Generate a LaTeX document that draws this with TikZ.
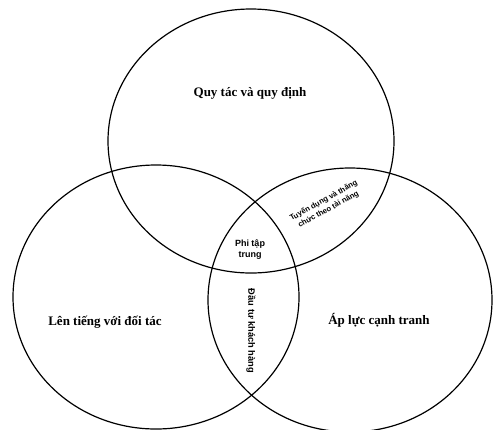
\documentclass[tikz,border=0pt]{standalone}
\usepackage{fontspec}
\setmainfont{Liberation Serif}
\setsansfont{Liberation Sans}
\begin{document}
\begin{tikzpicture}[x=1pt,y=-1pt,
  ring/.style={draw=black,line width=1.2pt},
  biglabel/.style={font=\fontsize{13}{15}\selectfont\bfseries,inner sep=0pt},
  smalllabel/.style={font=\sffamily\bfseries\fontsize{9}{11}\selectfont,align=center,inner sep=0pt},
  tinylabel/.style={font=\sffamily\bfseries\fontsize{7.6}{10}\selectfont,align=center,inner sep=0pt},
  vertlabel/.style={font=\sffamily\bfseries\fontsize{9.3}{11}\selectfont,inner sep=0pt}]
\useasboundingbox (0,0) rectangle (495,429);
\draw[ring] (251,141) ellipse [x radius=143pt, y radius=132pt];
\draw[ring] (156,297) ellipse [x radius=143pt, y radius=132pt];
\draw[ring] (350,300) ellipse [x radius=142pt, y radius=132pt];
\node[biglabel] (rules) at (250,93) {Quy tác và quy định};
\node[biglabel] (voice) at (105,322) {Lên tiếng với đối tác};
\node[biglabel] (press) at (379,320) {Áp lực cạnh tranh};
\node[smalllabel] (decent) at (250,250) {Phi tập\\trung};
\node[tinylabel,rotate=29] (recruit) at (326,205) {Tuyển dụng và thăng\\chức theo tài năng};
\node[vertlabel,rotate=-90] (invest) at (251,331) {Đầu tư khách hàng};
\end{tikzpicture}
\end{document}
